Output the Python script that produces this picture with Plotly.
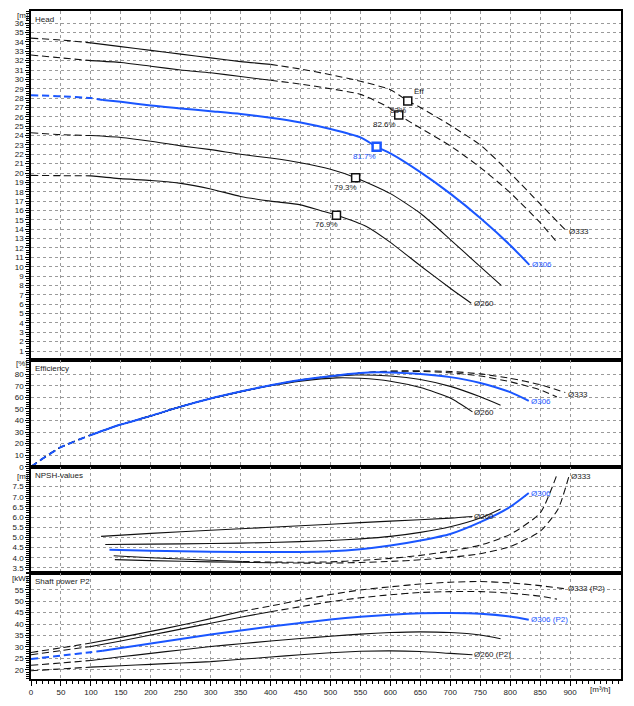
import plotly.graph_objects as go
from plotly.subplots import make_subplots

BLUE = '#1a56ff'
BLACK = '#111111'

# ---------------- Head [m] ----------------
q_h333 = [0, 50, 100, 150, 200, 250, 300, 350, 400, 450, 500, 550, 600, 629, 650, 700, 750, 800, 850, 894]
h_333 = [34.4, 34.2, 33.9, 33.5, 33.1, 32.7, 32.3, 31.9, 31.6, 31.1, 30.5, 29.8, 28.9, 27.7, 27.0, 25.1, 23.0, 20.0, 16.7, 13.8]
q_h320 = [0, 50, 100, 150, 200, 250, 300, 350, 400, 450, 500, 550, 600, 614, 650, 700, 750, 800, 850, 877]
h_320 = [32.6, 32.3, 32.0, 31.8, 31.4, 31.0, 30.7, 30.3, 29.9, 29.5, 29.0, 28.4, 26.9, 26.2, 24.8, 22.9, 20.6, 17.9, 14.7, 12.7]
q_h306 = [0, 50, 100, 120, 150, 200, 250, 300, 350, 400, 450, 500, 550, 577, 600, 650, 700, 750, 800, 832]
h_306 = [28.3, 28.2, 28.0, 27.8, 27.6, 27.2, 26.9, 26.6, 26.3, 25.9, 25.4, 24.7, 23.8, 22.8, 22.1, 20.1, 17.8, 15.2, 12.3, 10.2]
q_h283 = [0, 50, 100, 150, 200, 250, 300, 350, 400, 450, 500, 542, 600, 650, 700, 750, 785]
h_283 = [24.3, 24.1, 24.0, 23.8, 23.4, 22.9, 22.5, 22.0, 21.6, 21.1, 20.4, 19.5, 17.8, 15.7, 12.9, 10.0, 8.0]
q_h260 = [0, 50, 100, 150, 200, 250, 300, 350, 400, 450, 483, 510, 560, 600, 650, 700, 735]
h_260 = [19.75, 19.72, 19.7, 19.4, 19.2, 18.9, 18.3, 17.5, 17.0, 16.6, 16.0, 15.5, 14.3, 12.6, 10.1, 7.7, 6.1]

# best efficiency points
bep_q = [629, 614, 577, 542, 510]
bep_h = [27.7, 26.2, 22.8, 19.5, 15.5]
bep_txt = ['83%', '82.6%', '81.7%', '79.3%', '76.9%']

# ---------------- Efficiency [%] ----------------
q_e333 = [0, 25, 50, 100, 150, 200, 250, 300, 350, 400, 450, 500, 550, 600, 629, 650, 700, 750, 800, 850, 892]
e_333 = [0, 9, 17, 27.5, 36.5, 44, 52, 59, 65, 70.5, 75, 78.5, 81.2, 82.7, 83.0, 83.0, 82.4, 80.3, 76.5, 71.0, 64.2]
q_e320 = [0, 25, 50, 100, 150, 200, 250, 300, 350, 400, 450, 500, 550, 600, 614, 650, 700, 750, 800, 850, 878]
e_320 = [0, 9, 17, 27.5, 36.5, 44, 52, 59, 65, 70.5, 75, 78.4, 81.0, 82.5, 82.6, 82.4, 81.3, 78.5, 73.5, 66.5, 60.4]
q_e306 = [0, 25, 50, 100, 150, 200, 250, 300, 350, 400, 450, 500, 550, 577, 600, 650, 700, 750, 800, 831]
e_306 = [0, 9, 17, 27.5, 36.5, 44, 52, 59, 65, 70.5, 75, 78.3, 81.0, 81.7, 81.6, 80.3, 77.5, 72.5, 64.5, 57.0]
q_e283 = [0, 25, 50, 100, 150, 200, 250, 300, 350, 400, 450, 500, 542, 600, 650, 700, 750, 784]
e_283 = [0, 9, 17, 27.5, 36.5, 44, 52, 59, 65, 70.3, 74.6, 77.8, 79.3, 78.5, 75.5, 69.5, 60.5, 53.2]
q_e260 = [0, 25, 50, 100, 150, 200, 250, 300, 350, 400, 450, 510, 550, 600, 650, 700, 737]
e_260 = [0, 9, 17, 27.5, 36.5, 44, 52, 59, 65, 70.0, 74.0, 76.9, 76.5, 74.0, 68.5, 59.5, 47.5]

# ---------------- NPSH [m] ----------------
q_n333 = [140, 200, 300, 400, 450, 500, 550, 600, 650, 700, 750, 800, 850, 880, 898]
n_333 = [3.91, 3.86, 3.8, 3.76, 3.74, 3.74, 3.77, 3.82, 3.9, 4.02, 4.2, 4.55, 5.3, 6.4, 8.0]
q_n320 = [138, 200, 300, 353, 400, 450, 500, 550, 600, 650, 700, 750, 800, 850, 877]
n_320 = [4.10, 4.0, 3.88, 3.82, 3.79, 3.78, 3.8, 3.87, 3.97, 4.12, 4.33, 4.62, 5.15, 6.2, 8.0]
q_n306 = [131, 200, 300, 400, 500, 550, 600, 650, 700, 750, 800, 831]
n_306 = [4.40, 4.35, 4.3, 4.28, 4.32, 4.42, 4.6, 4.85, 5.17, 5.75, 6.5, 7.18]
q_n283 = [124, 200, 300, 400, 500, 550, 600, 650, 700, 750, 784]
n_283 = [4.65, 4.67, 4.7, 4.75, 4.85, 4.93, 5.05, 5.25, 5.52, 5.95, 6.4]
q_n260 = [117, 200, 300, 400, 500, 600, 700, 737]
n_260 = [5.05, 5.2, 5.35, 5.5, 5.65, 5.8, 5.95, 6.03]

# ---------------- Shaft power P2 [kW] ----------------
q_p333 = [0, 50, 100, 150, 200, 250, 300, 350, 400, 450, 500, 550, 600, 650, 700, 750, 800, 850, 892]
p_333 = [27.6, 29.6, 31.7, 34.2, 36.8, 39.5, 42.4, 45.5, 47.9, 50.5, 52.9, 54.9, 56.3, 57.5, 58.3, 58.6, 58.0, 56.8, 55.4]
q_p320 = [0, 50, 100, 150, 200, 250, 300, 350, 400, 450, 500, 550, 600, 650, 700, 750, 800, 850, 878]
p_320 = [26.6, 28.4, 30.2, 32.6, 35.2, 37.8, 40.4, 43.0, 45.4, 47.6, 49.8, 51.5, 52.8, 53.8, 54.2, 54.2, 53.5, 52.2, 50.9]
q_p306 = [0, 50, 100, 120, 150, 200, 250, 300, 350, 400, 450, 500, 550, 600, 650, 700, 750, 800, 831]
p_306 = [24.7, 26.2, 27.7, 28.3, 29.5, 31.5, 33.5, 35.4, 37.2, 38.9, 40.5, 42.0, 43.2, 44.1, 44.7, 44.8, 44.5, 43.3, 41.9]
q_p283 = [0, 50, 100, 150, 200, 250, 300, 350, 400, 450, 500, 550, 600, 650, 700, 750, 784]
p_283 = [22.0, 23.0, 24.1, 25.7, 27.2, 28.7, 30.2, 31.4, 32.6, 33.7, 34.7, 35.6, 36.3, 36.6, 36.3, 35.2, 33.6]
q_p260 = [0, 50, 100, 150, 200, 250, 300, 350, 400, 450, 500, 550, 600, 650, 700, 737]
p_260 = [19.6, 20.4, 21.2, 21.8, 22.4, 23.0, 23.6, 24.6, 25.6, 26.6, 27.5, 28.1, 28.3, 28.0, 27.2, 26.6]

x_ticks = list(range(0, 901, 50))

# ---------------- figure ----------------
fig = make_subplots(rows=4, cols=1, shared_xaxes=True, vertical_spacing=0)

DASH = '7px,4px'


def add_curve(q, v, row, color, width, segs):
    """segs: list of (q_from, q_to, dashed)"""
    for a, b, dashed in segs:
        xs = [qq for qq in q if a <= qq <= b]
        ys = [vv for qq, vv in zip(q, v) if a <= qq <= b]
        fig.add_trace(go.Scatter(
            x=xs, y=ys, mode='lines', hoverinfo='skip', showlegend=False,
            line=dict(color=color, width=width, dash=DASH if dashed else 'solid',
                      shape='spline', smoothing=0.6)), row=row, col=1)


BIG = 1e4
seg_big = lambda s, e: [(0, s, True), (s, e, False), (e, BIG, True)]
seg_small = lambda s: [(0, s, True), (s, BIG, False)]

# Head
add_curve(q_h333, h_333, 1, BLACK, 1.1, seg_big(100, 400))
add_curve(q_h320, h_320, 1, BLACK, 1.1, seg_big(100, 400))
add_curve(q_h283, h_283, 1, BLACK, 1.1, seg_small(100))
add_curve(q_h260, h_260, 1, BLACK, 1.1, seg_small(100))
add_curve(q_h306, h_306, 1, BLUE, 2.0, seg_small(120))

# Efficiency
add_curve(q_e333, e_333, 2, BLACK, 1.1, seg_big(100, 400))
add_curve(q_e320, e_320, 2, BLACK, 1.1, seg_big(100, 400))
add_curve(q_e283, e_283, 2, BLACK, 1.1, seg_small(100))
add_curve(q_e260, e_260, 2, BLACK, 1.1, seg_small(100))
add_curve(q_e306, e_306, 2, BLUE, 2.0, seg_small(100))

# NPSH
add_curve(q_n333, n_333, 3, BLACK, 1.1, [(0, 400, False), (400, BIG, True)])
add_curve(q_n320, n_320, 3, BLACK, 1.1, [(0, 353, False), (353, BIG, True)])
add_curve(q_n283, n_283, 3, BLACK, 1.1, [(0, BIG, False)])
add_curve(q_n260, n_260, 3, BLACK, 1.1, [(0, BIG, False)])
add_curve(q_n306, n_306, 3, BLUE, 2.0, [(0, BIG, False)])

# Power
add_curve(q_p333, p_333, 4, BLACK, 1.1, seg_big(100, 350))
add_curve(q_p320, p_320, 4, BLACK, 1.1, seg_big(100, 400))
add_curve(q_p283, p_283, 4, BLACK, 1.1, seg_small(100))
add_curve(q_p260, p_260, 4, BLACK, 1.1, seg_small(100))
add_curve(q_p306, p_306, 4, BLUE, 2.0, seg_small(120))

# BEP markers
fig.add_trace(go.Scatter(x=bep_q[:2] + bep_q[3:], y=bep_h[:2] + bep_h[3:], mode='markers',
                         hoverinfo='skip', showlegend=False,
                         marker=dict(symbol='square', size=8, color='white',
                                     line=dict(color=BLACK, width=1.5))), row=1, col=1)
fig.add_trace(go.Scatter(x=[bep_q[2]], y=[bep_h[2]], mode='markers',
                         hoverinfo='skip', showlegend=False,
                         marker=dict(symbol='square', size=8, color='white',
                                     line=dict(color=BLUE, width=2.5))), row=1, col=1)

FONT = 'Liberation Sans, Arial, sans-serif'
ann = []


def label(x, y, text, yref, color='#222222', xanchor='left', yanchor='middle', xshift=0, yshift=0):
    ann.append(dict(x=x, y=y, xref='x', yref=yref, text=text, showarrow=False,
                    xanchor=xanchor, yanchor=yanchor, xshift=xshift, yshift=yshift,
                    font=dict(family=FONT, size=8, color=color)))


# Head labels
label(q_h333[-1], h_333[-1], 'Ø333', 'y', xshift=1)
label(q_h306[-1], h_306[-1], 'Ø306', 'y', color=BLUE, xshift=1)
label(q_h260[-1], h_260[-1], 'Ø260', 'y', xshift=1)
label(bep_q[0], bep_h[0], 'Eff', 'y', xshift=4, yshift=3, yanchor='bottom')
label(bep_q[0], bep_h[0], bep_txt[0], 'y', xanchor='center', yanchor='top', xshift=-10, yshift=-3)
label(bep_q[1], bep_h[1], bep_txt[1], 'y', xanchor='center', yanchor='top', xshift=-14, yshift=-3)
label(bep_q[2], bep_h[2], bep_txt[2], 'y', color=BLUE, xanchor='center', yanchor='top', xshift=-12, yshift=-3)
label(bep_q[3], bep_h[3], bep_txt[3], 'y', xanchor='center', yanchor='top', xshift=-10, yshift=-3)
label(bep_q[4], bep_h[4], bep_txt[4], 'y', xanchor='center', yanchor='top', xshift=-10, yshift=-3)

# Efficiency labels
label(q_e333[-1], e_333[-1], 'Ø333', 'y2', xshift=1, yshift=-2)
label(q_e306[-1], e_306[-1], 'Ø306', 'y2', color=BLUE, xshift=0, yshift=-1)
label(q_e260[-1], e_260[-1], 'Ø260', 'y2', xshift=0, yshift=-1)

# NPSH labels
label(q_n333[-1], n_333[-1], 'Ø333', 'y3', xshift=0)
label(q_n306[-1], n_306[-1], 'Ø306', 'y3', color=BLUE, xshift=0)
label(q_n260[-1], n_260[-1], 'Ø260', 'y3', xshift=0)

# Power labels
label(q_p333[-1], p_333[-1], 'Ø333 (P2)', 'y4', xshift=1)
label(q_p306[-1], p_306[-1], 'Ø306 (P2)', 'y4', color=BLUE, xshift=0)
label(q_p260[-1], p_260[-1], 'Ø260 (P2)', 'y4', xshift=0)

domains = [[0.4770, 1.0], [0.3177, 0.4770], [0.1586, 0.3177], [0.0, 0.1586]]
titles = ['Head', 'Efficiency', 'NPSH-values', 'Shaft power P2']
units = ['[m]', '[%]', '[m]', '[kW]']
unit_shift = [-4, -3, -10, -5]
for d, t, u, us in zip(domains, titles, units, unit_shift):
    ann.append(dict(x=0, y=d[1], xref='paper', yref='paper', text=t, showarrow=False,
                    xanchor='left', yanchor='top', xshift=2, yshift=-2,
                    font=dict(family=FONT, size=8, color='#222222')))
    ann.append(dict(x=0, y=d[1], xref='paper', yref='paper', text=u, showarrow=False,
                    xanchor='right', yanchor='middle', xshift=-1, yshift=us,
                    font=dict(family=FONT, size=8, color='#222222')))
ann.append(dict(x=950, y=0, xref='x', yref='paper', text='[m³/h]', showarrow=False,
                xanchor='center', yanchor='top', yshift=-4,
                font=dict(family=FONT, size=8, color='#222222')))

grid = dict(showgrid=True, gridcolor='#9a9a9a', gridwidth=1, griddash='dot')
for i in range(1, 5):
    xa = dict(range=[0, 985], tickvals=x_ticks, showline=True, mirror=True, linecolor='black',
              linewidth=1.5, zeroline=False, automargin=False, **grid)
    if i == 4:
        xa.update(ticks='outside', ticklen=5, tickcolor='black', tickwidth=1,
                  minor=dict(dtick=10, ticks='outside', ticklen=3, tickcolor='black', showgrid=False),
                  tickfont=dict(family=FONT, size=8, color='#222222'))
    else:
        xa.update(showticklabels=False, ticks='')
    fig.update_xaxes(xa, row=i, col=1)

yconf = [
    dict(range=[0, 37.3], tickvals=list(range(1, 37)), minor=dict(dtick=0.25)),
    dict(range=[0, 92], tickvals=list(range(0, 81, 10)), minor=dict(dtick=2)),
    dict(range=[3.25, 8.47], tickvals=[3.5 + 0.5 * k for k in range(9)],
         ticktext=['%.1f' % (3.5 + 0.5 * k) for k in range(9)], minor=dict(dtick=0.1)),
    dict(range=[16, 62.3], tickvals=list(range(20, 56, 5)), minor=dict(dtick=1)),
]
for i, yc in enumerate(yconf, start=1):
    yc['minor'].update(ticks='outside', ticklen=3, tickcolor='black', showgrid=False)
    fig.update_yaxes(domain=domains[i - 1], showline=True, mirror=True, linecolor='black',
                     linewidth=1.5, zeroline=False, ticks='outside', ticklen=4, tickcolor='black',
                     automargin=False,
                     tickfont=dict(family=FONT, size=8, color='#222222'), **grid, **yc,
                     row=i, col=1)

# the page body adds an 8px offset, so margins are reduced accordingly
fig.update_layout(width=634, height=706, margin=dict(l=23, r=21, t=3, b=35, autoexpand=False),
                  paper_bgcolor='white', plot_bgcolor='white', annotations=ann,
                  showlegend=False)
fig.write_html('out.html')
